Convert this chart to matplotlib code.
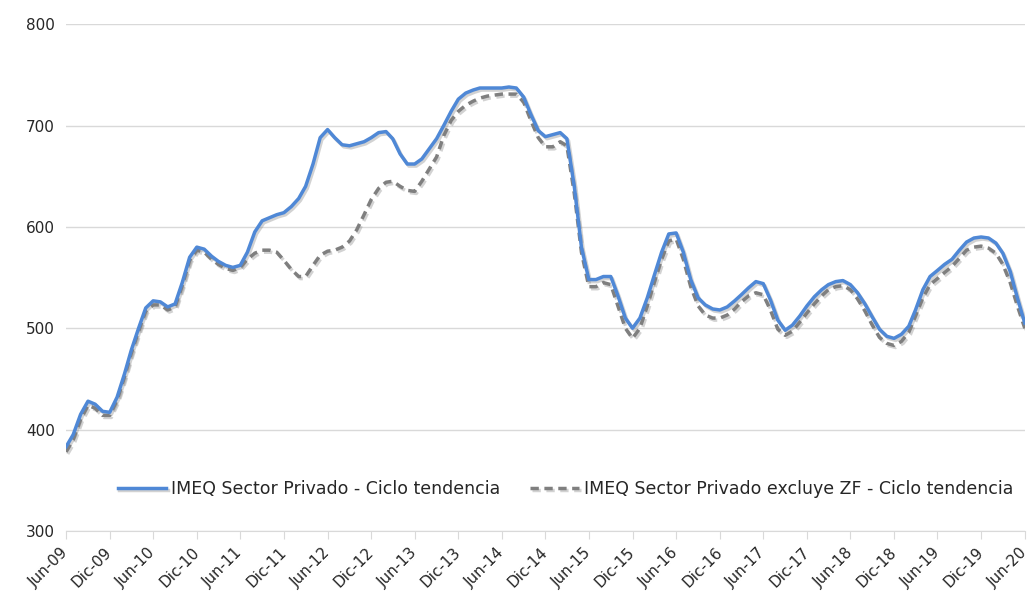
import pandas as pd
import matplotlib
matplotlib.use("Agg")
import matplotlib.pyplot as plt
import matplotlib.patheffects as pe

# monthly dates, Jun-09 .. Jun-20
months = pd.date_range("2009-06-01", "2020-06-01", freq="MS")

# IMEQ Sector Privado - Ciclo tendencia
imeq_privado = [
    383, 395, 415, 428, 425, 418, 417, 432, 455, 478, 500, 520,
    527, 526, 521, 524, 545, 570, 580, 578, 571, 566, 562, 560,
    562, 575, 595, 606, 609, 612, 614, 620, 628, 640, 662, 688,
    696, 688, 681, 680, 682, 684, 688, 693, 694, 687, 672, 662,
    662, 667, 677, 687, 700, 714, 726, 732, 735, 737, 737, 737,
    737, 738, 737, 728, 711, 695, 689, 691, 693, 687, 640, 580,
    548, 548, 551, 551, 532, 510, 500, 510, 530, 552, 575, 593,
    594, 575, 548, 530, 523, 519, 518, 521, 527, 533, 540, 546,
    544, 528, 508, 498, 503, 512, 522, 531, 538, 543, 546, 547,
    543, 535, 524, 511, 499, 492, 490, 494, 502, 518, 538, 551,
    557, 563, 568, 577, 585, 589, 590, 589, 584, 574, 556, 530,
    505,
]

# IMEQ Sector Privado excluye ZF - Ciclo tendencia
imeq_sin_zf = [
    378, 390, 410, 424, 421, 414, 414, 429, 452, 475, 497, 517,
    523, 523, 518, 521, 542, 567, 577, 575, 568, 563, 559, 557,
    560, 568, 574, 577, 577, 575, 567, 558, 551, 551, 562, 572,
    576, 577, 580, 586, 597, 612, 627, 638, 644, 645, 640, 636,
    635, 645, 657, 669, 690, 705, 714, 720, 724, 727, 729, 730,
    731, 731, 731, 723, 705, 688, 679, 679, 684, 680, 633, 575,
    541, 541, 545, 543, 522, 500, 490, 500, 522, 545, 568, 586,
    588, 568, 541, 522, 513, 510, 510, 513, 519, 526, 532, 535,
    533, 518, 499, 493, 497, 506, 515, 524, 532, 538, 541, 542,
    538, 529, 517, 503, 491, 485, 483, 487, 496, 512, 530, 543,
    549, 555, 561, 569, 577, 580, 581, 579, 574, 563, 545, 522,
    500,
]

tick_labels = ["Jun-09", "Dic-09", "Jun-10", "Dic-10", "Jun-11", "Dic-11",
               "Jun-12", "Dic-12", "Jun-13", "Dic-13", "Jun-14", "Dic-14",
               "Jun-15", "Dic-15", "Jun-16", "Dic-16", "Jun-17", "Dic-17",
               "Jun-18", "Dic-18", "Jun-19", "Dic-19", "Jun-20"]

plt.rcParams['font.family'] = ['DejaVu Sans']

fig = plt.figure(figsize=(10.32, 6.04), dpi=100)
ax = fig.add_axes([0.064, 0.121, 0.929, 0.839])

shadow = [pe.SimpleLineShadow(offset=(1.2, -1.5), shadow_color='#808080', alpha=0.35),
          pe.Normal()]

ax.plot(months, imeq_privado, color='#4F88D6', lw=2.5, solid_joinstyle='round',
        label='IMEQ Sector Privado - Ciclo tendencia', path_effects=shadow, zorder=3)
ax.plot(months, imeq_sin_zf, color='#7F7F7F', lw=2.5, dashes=(2.4, 1.6),
        label='IMEQ Sector Privado excluye ZF - Ciclo tendencia', path_effects=shadow, zorder=2)

ax.set_ylim(300, 800)
ax.set_yticks([300, 400, 500, 600, 700, 800])
ax.set_xlim(months[0], months[-1])
ax.set_xticks(months[::6])
ax.set_xticklabels(tick_labels, rotation=45, ha='right', va='center', rotation_mode='anchor')

ax.grid(axis='y', color='#D9D9D9', lw=1)
ax.set_axisbelow(True)
for s in ['top', 'right', 'left']:
    ax.spines[s].set_visible(False)
ax.spines['bottom'].set_color('#D9D9D9')
ax.tick_params(axis='y', length=0, pad=8, labelsize=11, labelcolor='#262626')
ax.tick_params(axis='x', length=6, color='#D9D9D9', labelsize=11, labelcolor='#262626', pad=8)

leg = ax.legend(loc='center', bbox_to_anchor=(0.548, 0.19), bbox_transform=fig.transFigure,
                ncol=2, frameon=False, handlelength=2.8, handletextpad=0.3,
                columnspacing=1.7, prop={'size': 12.5})
for t in leg.get_texts():
    t.set_color('#262626')

fig.savefig('out.png', dpi=100)
